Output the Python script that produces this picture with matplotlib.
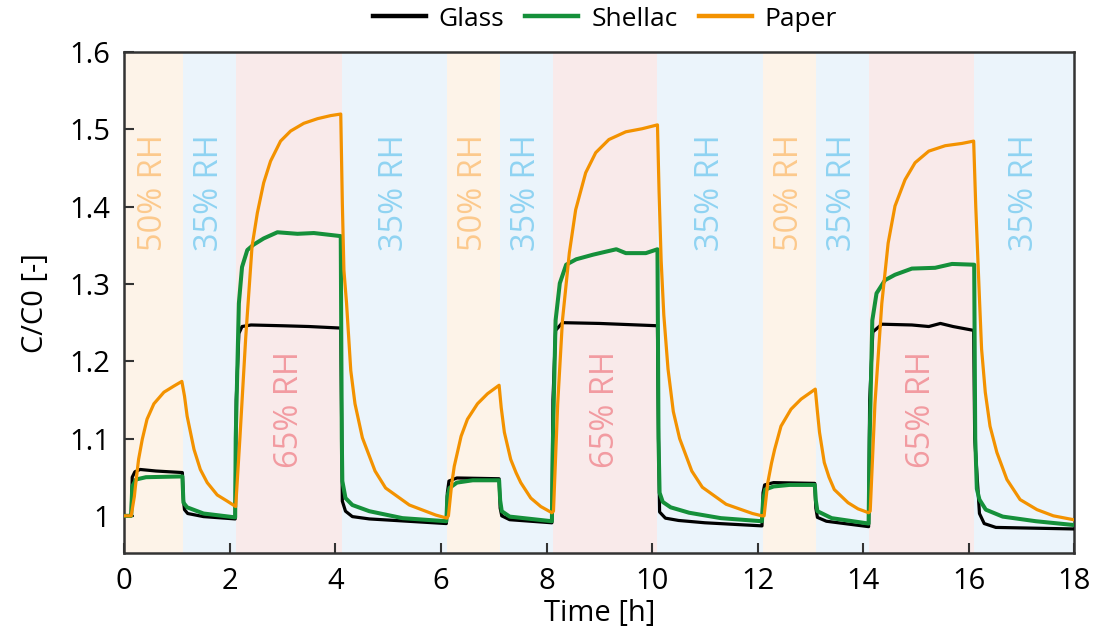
import matplotlib
matplotlib.use("Agg")
import matplotlib.pyplot as plt

plt.rcParams['font.family'] = ['Open Sans', 'DejaVu Sans']

# humidity phases (start, end, label)
phase_start = [0.0, 1.12, 2.12, 4.12, 6.12, 7.12, 8.12, 10.1, 12.1, 13.1, 14.1, 16.1]
phase_end = [1.12, 2.12, 4.12, 6.12, 7.12, 8.12, 10.1, 12.1, 13.1, 14.1, 16.1, 18.0]
phase_rh = ['50', '35', '65', '35', '50', '35', '65', '35', '50', '35', '65', '35']

# Glass
t_glass = [0, 0.13, 0.15, 0.2, 0.3, 0.6, 1.10,
           1.12, 1.14, 1.2, 1.5, 2.10,
           2.12, 2.17, 2.23, 2.4, 3.0, 3.5, 4.10,
           4.12, 4.13, 4.19, 4.32, 4.64, 6.10,
           6.12, 6.15, 6.3, 7.10,
           7.12, 7.15, 7.3, 8.10,
           8.12, 8.17, 8.30, 9.0, 10.10,
           10.12, 10.14, 10.25, 10.5, 11.0, 12.08,
           12.10, 12.13, 12.3, 13.08,
           13.10, 13.13, 13.3, 14.10,
           14.12, 14.18, 14.35, 14.92, 15.24, 15.46, 15.70, 16.09,
           16.11, 16.20, 16.29, 16.51, 18.0]
c_glass = [1.0, 1.0, 1.05, 1.057, 1.060, 1.058, 1.056,
           1.02, 1.008, 1.003, 0.999, 0.996,
           1.15, 1.236, 1.245, 1.247, 1.246, 1.245, 1.243,
           1.10, 1.019, 1.006, 0.999, 0.996, 0.990,
           1.03, 1.045, 1.049, 1.048,
           1.01, 1.0, 0.995, 0.991,
           1.15, 1.240, 1.250, 1.249, 1.246,
           1.10, 1.005, 0.997, 0.994, 0.991, 0.987,
           1.03, 1.04, 1.043, 1.042,
           1.01, 0.998, 0.993, 0.986,
           1.15, 1.238, 1.248, 1.247, 1.245, 1.249, 1.245, 1.240,
           1.10, 1.003, 0.990, 0.985, 0.983]

# Shellac
t_shellac = [0, 0.13, 0.15, 0.22, 0.41, 1.10,
             1.12, 1.19, 1.5, 2.10,
             2.11, 2.17, 2.23, 2.33, 2.45, 2.64, 2.90, 3.28, 3.59, 4.10,
             4.12, 4.13, 4.19, 4.32, 4.64, 5.27, 6.10,
             6.12, 6.16, 6.3, 6.6, 7.10,
             7.12, 7.15, 7.3, 8.10,
             8.12, 8.17, 8.25, 8.37, 8.56, 8.88, 9.13, 9.32, 9.50, 9.88, 10.10,
             10.12, 10.14, 10.2, 10.35, 10.7, 11.3, 12.08,
             12.10, 12.14, 12.3, 12.6, 13.08,
             13.10, 13.13, 13.4, 14.10,
             14.12, 14.17, 14.25, 14.41, 14.60, 14.92, 15.36, 15.68, 16.10,
             16.12, 16.15, 16.20, 16.32, 16.64, 17.27, 18.0]
c_shellac = [1.0, 1.0, 1.038, 1.047, 1.050, 1.051,
             1.017, 1.011, 1.003, 0.998,
             1.10, 1.275, 1.322, 1.344, 1.351, 1.359, 1.367, 1.365, 1.366, 1.362,
             1.10, 1.045, 1.023, 1.014, 1.006, 0.997, 0.993,
             1.025, 1.036, 1.043, 1.046, 1.046,
             1.02, 1.006, 0.999, 0.993,
             1.10, 1.253, 1.301, 1.325, 1.332, 1.338, 1.342, 1.345, 1.340, 1.340, 1.345,
             1.10, 1.03, 1.018, 1.011, 1.004, 0.997, 0.993,
             1.02, 1.034, 1.038, 1.040, 1.040,
             1.02, 1.006, 0.997, 0.990,
             1.10, 1.253, 1.288, 1.305, 1.312, 1.320, 1.321, 1.326, 1.325,
             1.10, 1.035, 1.021, 1.008, 0.999, 0.993, 0.988]

# Paper
t_paper = [0, 0.13, 0.19, 0.21, 0.27, 0.34, 0.43, 0.56, 0.75, 0.94, 1.09,
           1.14, 1.19, 1.32, 1.44, 1.57, 1.76, 1.95, 2.11,
           2.19, 2.30, 2.42, 2.52, 2.64, 2.77, 2.96, 3.15, 3.40, 3.66, 3.91, 4.10,
           4.13, 4.16, 4.21, 4.29, 4.37, 4.51, 4.75, 4.95, 5.40, 5.90, 6.11,
           6.14, 6.20, 6.25, 6.32, 6.38, 6.50, 6.69, 6.88, 7.10,
           7.14, 7.20, 7.32, 7.42, 7.51, 7.70, 7.89, 8.10,
           8.13, 8.21, 8.30, 8.43, 8.55, 8.74, 8.93, 9.18, 9.50, 9.81, 10.10,
           10.13, 10.17, 10.22, 10.30, 10.40, 10.52, 10.75, 10.95, 11.4, 11.9, 12.08,
           12.12, 12.19, 12.26, 12.32, 12.44, 12.63, 12.82, 13.09,
           13.13, 13.17, 13.26, 13.35, 13.45, 13.71, 13.9, 14.10,
           14.13, 14.22, 14.35, 14.47, 14.60, 14.79, 14.98, 15.24, 15.55, 15.87, 16.09,
           16.13, 16.20, 16.24, 16.31, 16.40, 16.53, 16.72, 16.97, 17.29, 17.60, 17.98]
c_paper = [1.0, 1.0, 1.025, 1.038, 1.073, 1.099, 1.125, 1.145, 1.160, 1.168, 1.174,
           1.155, 1.129, 1.086, 1.060, 1.043, 1.027, 1.019, 1.012,
           1.101, 1.231, 1.349, 1.392, 1.431, 1.459, 1.485, 1.498, 1.508, 1.514, 1.518, 1.520,
           1.405, 1.318, 1.275, 1.188, 1.145, 1.101, 1.058, 1.036, 1.014, 1.001, 0.997,
           1.0, 1.04, 1.064, 1.085, 1.103, 1.125, 1.145, 1.158, 1.169,
           1.14, 1.108, 1.073, 1.056, 1.043, 1.023, 1.012, 1.004,
           1.006, 1.145, 1.253, 1.340, 1.396, 1.444, 1.470, 1.487, 1.497, 1.501, 1.506,
           1.42, 1.33, 1.26, 1.19, 1.135, 1.100, 1.058, 1.037, 1.015, 1.003, 1.0,
           1.0, 1.043, 1.068, 1.086, 1.116, 1.138, 1.151, 1.164,
           1.135, 1.108, 1.069, 1.05, 1.034, 1.017, 1.009, 1.004,
           1.006, 1.145, 1.275, 1.353, 1.401, 1.435, 1.457, 1.472, 1.479, 1.482, 1.485,
           1.40, 1.281, 1.216, 1.160, 1.116, 1.082, 1.047, 1.021, 1.008, 1.0, 0.995]

band_color = {'50': '#fdf3e8', '35': '#ebf4fb', '65': '#f9eaea'}
text_color = {'50': '#fcc98c', '35': '#8fd3f2', '65': '#f29ba1'}

fig = plt.figure(figsize=(11.10, 6.37), dpi=100)
ax = fig.add_axes([0.112, 0.132, 0.856, 0.786])

for s, e, rh in zip(phase_start, phase_end, phase_rh):
    ax.axvspan(s, e, color=band_color[rh], lw=0, zorder=0)
    ty = 1.138 if rh == '65' else 1.418
    ax.text((s + e) / 2, ty, rh + '% RH', rotation=90, ha='center', va='center',
            color=text_color[rh], fontsize=23.5, zorder=1)

ax.plot(t_glass, c_glass, color='black', lw=2.3, label='Glass', zorder=3,
        solid_joinstyle='round')
ax.plot(t_shellac, c_shellac, color='#15903a', lw=2.9, label='Shellac', zorder=4,
        solid_joinstyle='round')
ax.plot(t_paper, c_paper, color='#f39200', lw=2.3, label='Paper', zorder=5,
        solid_joinstyle='round')

ax.set_xlim(0, 18)
ax.set_ylim(0.952, 1.6)
ax.set_xticks(range(0, 19, 2))
ax.set_yticks([1.0, 1.1, 1.2, 1.3, 1.4, 1.5, 1.6])
ax.set_yticklabels(['1', '1.1', '1.2', '1.3', '1.4', '1.5', '1.6'])
ax.tick_params(direction='in', length=7, width=1.5, labelsize=21, color='#333333', pad=10)
for sp in ax.spines.values():
    sp.set_color('#333333')
    sp.set_linewidth(1.8)

ax.set_xlabel('Time [h]', fontsize=21, labelpad=2)
ax.set_ylabel('C/C0 [-]', fontsize=21, labelpad=14)

leg = fig.legend(loc='center', bbox_to_anchor=(0.545, 0.97), ncol=3, frameon=False,
                 fontsize=19, handlelength=2.0, columnspacing=0.8, handletextpad=0.5)
for h in leg.get_lines():
    h.set_linewidth(3.2)

fig.savefig('out.png', dpi=100)
